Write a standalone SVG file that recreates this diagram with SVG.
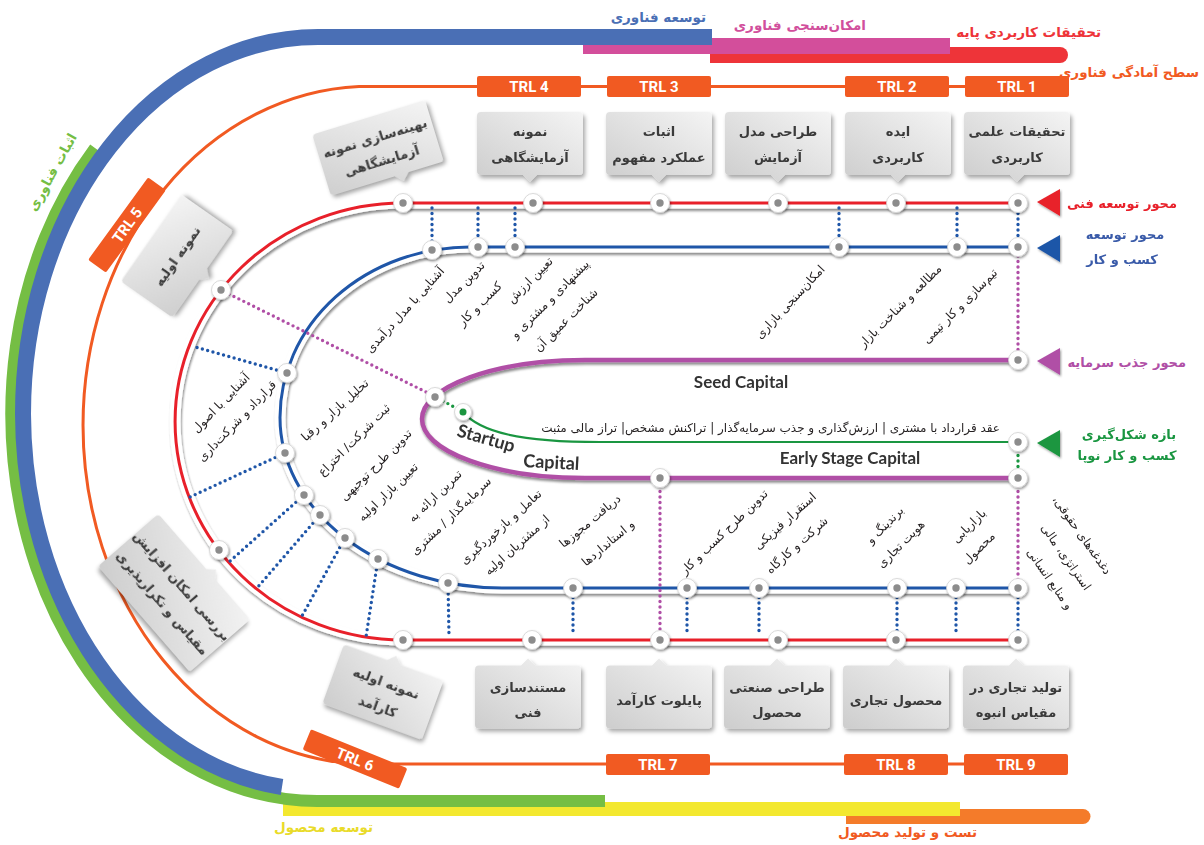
<svg xmlns="http://www.w3.org/2000/svg" width="1204" height="845" viewBox="0 0 1204 845">
<defs>
<style>
.hd{font-family:"DejaVu Sans","Noto Sans",sans-serif;font-size:13.5px;font-weight:bold}
.ax{font-family:"DejaVu Sans","Noto Sans",sans-serif;font-size:13px;font-weight:bold}
.en{font-family:Lato,"Open Sans","Liberation Sans",sans-serif;font-weight:bold;fill:#333}
.lbl{font-family:"DejaVu Sans","Noto Sans",sans-serif;font-size:12px;fill:#231f20;text-anchor:middle}
.bt{font-family:"DejaVu Sans","Noto Sans",sans-serif;font-size:13px;font-weight:bold;fill:#3a3a3a;text-anchor:middle}
.trl{fill:#F15A22}
.trlt{font-family:Roboto,"Open Sans",sans-serif;font-weight:bold;font-size:15px;fill:#fff;text-anchor:middle}
.dot{fill:none;stroke-width:3.4;stroke-linecap:round;stroke-dasharray:0 5.5}
.db{stroke:#1F56A8}
.dp{stroke:#B04FA6}
.dg{stroke:#1A9641}
.box{fill:url(#gb);filter:url(#bsh)}
.tube{fill:none;stroke:#fff;stroke-width:11;filter:url(#tsh)}
</style>
<linearGradient id="gb" x1="0" y1="1" x2="1" y2="0"><stop offset="0" stop-color="#cdcdcd"/><stop offset="1" stop-color="#f4f4f4"/></linearGradient>
<filter id="bsh" x="-20%" y="-20%" width="150%" height="150%"><feDropShadow dx="2" dy="3" stdDeviation="2" flood-color="#000" flood-opacity="0.35"/></filter>
<filter id="tsh" x="-5%" y="-10%" width="110%" height="125%"><feDropShadow dx="1" dy="2.5" stdDeviation="1.3" flood-color="#000" flood-opacity="0.45"/></filter>
<filter id="nsh" x="-10%" y="-10%" width="120%" height="125%"><feDropShadow dx="1" dy="1.5" stdDeviation="1.2" flood-color="#000" flood-opacity="0.4"/></filter>
<path id="boxD" d="M-49,-31.5 H49 Q53,-31.5 53,-27.5 V27.5 Q53,31.5 49,31.5 H7 L0,38.5 L-7,31.5 H-49 Q-53,31.5 -53,27.5 V-27.5 Q-53,-31.5 -49,-31.5 Z"/>
<path id="boxU" d="M-49,-31.5 H-7 L0,-38.5 L7,-31.5 H49 Q53,-31.5 53,-27.5 V27.5 Q53,31.5 49,31.5 H-49 Q-53,31.5 -53,27.5 V-27.5 Q-53,-31.5 -49,-31.5 Z"/>
<path id="boxA" d="M-55,-32 H55 Q59,-32 59,-28 V28 Q59,32 55,32 H22 L15,39 L8,32 H-55 Q-59,32 -59,28 V-28 Q-59,-32 -55,-32 Z"/>
<path id="boxW" d="M-66,-40 H3 L10,-47 L17,-40 H66 Q70,-40 70,-36 V36 Q70,40 66,40 H-66 Q-70,40 -70,36 V-36 Q-70,-40 -66,-40 Z"/>
<g id="nd"><circle r="9.5" fill="#fff" stroke="#d2d2d2" stroke-width="0.8"/><circle r="3.7" fill="#8c8c8c"/></g>
<g id="ndg"><circle r="8.5" fill="#fff" stroke="#d2d2d2" stroke-width="0.8"/><circle r="3.5" fill="#1A9641"/></g>
</defs>
<rect width="1204" height="845" fill="#fff"/>

<g id="bands">
<path d="M846,809 H1083 A7.5,7.5 0 0 1 1083,824 H846 Z" fill="#F47B2A"/>
<rect x="283" y="802" width="677" height="14" fill="#F3E82F"/>
<path d="M95,148 A306,387 0 0 0 318,801 H605" fill="none" stroke="#75BE44" stroke-width="12"/>
<path d="M710,47 H1060 A8,8 0 0 1 1060,63 H710 Z" fill="#EE3439"/>
<rect x="583" y="38" width="367" height="16" fill="#D34E9B"/>
<path d="M712,37 H318 A295,377 0 0 0 23,414 A295,377 0 0 0 282,787" fill="none" stroke="#4A6FB5" stroke-width="16"/>
<text class="hd" x="706" y="22" fill="#4A6FB5" text-anchor="end">توسعه فناوری</text>
<text class="hd" x="866" y="30" fill="#D14F9C" text-anchor="end">امکان&#x200C;سنجی فناوری</text>
<text class="hd" x="1101" y="37" fill="#EE3439" text-anchor="end">تحقیقات کاربردی پایه</text>
<text class="hd" x="1199" y="77" fill="#F15A22" text-anchor="end">سطح آمادگی فناوری</text>
<text class="hd" transform="translate(52,172) rotate(-61)" y="5" fill="#75BE44" text-anchor="middle" font-weight="normal" font-size="14">اثبات فناوری</text>
<text class="hd" x="373" y="832" fill="#E9DB2A" text-anchor="end" font-weight="normal">توسعه محصول</text>
<text class="hd" x="977" y="837" fill="#F15A22" text-anchor="end" font-weight="normal">تست و تولید محصول</text>
</g>

<g id="trl-line">
<path d="M1068,86.5 H359 A287,339 0 0 0 359,764 H1068" fill="none" stroke="#F15A22" stroke-width="3"/>
<g id="trl4"><rect class="trl" x="477" y="76" width="104" height="21" rx="2"/><text class="trlt" x="529" y="92">TRL 4</text></g>
<g id="trl3"><rect class="trl" x="607" y="76" width="104" height="21" rx="2"/><text class="trlt" x="659" y="92">TRL 3</text></g>
<g id="trl2"><rect class="trl" x="845" y="76" width="104" height="21" rx="2"/><text class="trlt" x="897" y="92">TRL 2</text></g>
<g id="trl1"><rect class="trl" x="965" y="76" width="104" height="21" rx="2"/><text class="trlt" x="1017" y="92">TRL 1</text></g>
<g id="trl5" transform="translate(127,225) rotate(-54)"><rect class="trl" x="-51" y="-11" width="102" height="22" rx="2"/><text class="trlt" y="5.5">TRL 5</text></g>
<g id="trl6" transform="translate(355,759) rotate(22)"><rect class="trl" x="-52" y="-11" width="104" height="22" rx="2"/><text class="trlt" y="5.5">TRL 6</text></g>
<g id="trl7"><rect class="trl" x="606" y="754" width="104" height="21" rx="2"/><text class="trlt" x="658" y="770">TRL 7</text></g>
<g id="trl8"><rect class="trl" x="844" y="754" width="104" height="21" rx="2"/><text class="trlt" x="896" y="770">TRL 8</text></g>
<g id="trl9"><rect class="trl" x="964" y="754" width="104" height="21" rx="2"/><text class="trlt" x="1016" y="770">TRL 9</text></g>
</g>

<g id="tracks">
<path class="tube" d="M1018,203 H403 A228,218.5 0 0 0 403,640 H1018"/>
<path d="M1018,203 H403 A228,218.5 0 0 0 403,640 H1018" fill="none" stroke="#E8202A" stroke-width="3"/>
<path class="tube" d="M1018,247 H470 A190,170.5 0 0 0 280,417.5 A222,170.5 0 0 0 502,588 H1018"/>
<path d="M1018,247 H470 A190,170.5 0 0 0 280,417.5 A222,170.5 0 0 0 502,588 H1018" fill="none" stroke="#1F56A8" stroke-width="3"/>
<path d="M1018,360 H585 A163,59 0 0 0 585,478 H1018" fill="none" stroke="#B04FA6" stroke-width="4.5" filter="url(#tsh)"/>
<path d="M463,412 C480,432 520,442 600,442 H1018" fill="none" stroke="#1A9641" stroke-width="2.2"/>
</g>

<g id="connectors">
<path class="dot db" d="M432,208 V242 M478,208 V239 M515,208 V239 M839,208 V239 M957,208 V239 M1018,208 V239 M287,373 L192,346 M285,453 L190,497 M304,495 L229,562 M320,515 L257,588 M345,538 L302,616 M378,559 L366,637 M448,583 L449,636 M573,592 V636 M687,592 V636 M759,592 V636 M897,592 V636 M956,592 V636 M1018,592 V636"/>
<path class="dot dp" d="M229,294 L430,394 M1018,256 V352 M660,486 V632 M1018,486 V580"/>
<path class="dot dg" d="M443,401 L458,409 M1018,450 V471"/>
</g>

<g id="stations" filter="url(#nsh)">
<use href="#nd" x="403" y="203"/><use href="#nd" x="533" y="203"/><use href="#nd" x="660" y="203"/><use href="#nd" x="778" y="203"/><use href="#nd" x="896" y="203"/><use href="#nd" x="1018" y="203"/>
<use href="#nd" x="221" y="290"/><use href="#nd" x="219" y="550"/>
<use href="#nd" x="403" y="640"/><use href="#nd" x="532" y="640"/><use href="#nd" x="660" y="640"/><use href="#nd" x="778" y="640"/><use href="#nd" x="896" y="640"/><use href="#nd" x="1018" y="640"/>
<use href="#nd" x="432" y="250"/><use href="#nd" x="478" y="247"/><use href="#nd" x="515" y="247"/><use href="#nd" x="839" y="247"/><use href="#nd" x="957" y="247"/><use href="#nd" x="1018" y="247"/>
<use href="#nd" x="287" y="373"/><use href="#nd" x="285" y="453"/><use href="#nd" x="304" y="495"/><use href="#nd" x="320" y="515"/><use href="#nd" x="345" y="538"/><use href="#nd" x="378" y="559"/><use href="#nd" x="448" y="583"/>
<use href="#nd" x="573" y="588"/><use href="#nd" x="687" y="588"/><use href="#nd" x="759" y="588"/><use href="#nd" x="897" y="588"/><use href="#nd" x="956" y="588"/><use href="#nd" x="1018" y="588"/>
<use href="#nd" x="435" y="397"/><use href="#nd" x="1018" y="360"/><use href="#nd" x="660" y="478"/><use href="#nd" x="1018" y="478"/>
<use href="#ndg" x="463" y="412"/><use href="#nd" x="1018" y="442"/>
</g>

<g id="box-t1" transform="translate(530,143.5)"><use class="box" href="#boxD"/><text class="bt" y="-8">نمونه</text><text class="bt" y="18">آزمایشگاهی</text></g>
<g id="box-t2" transform="translate(659,143.5)"><use class="box" href="#boxD"/><text class="bt" y="-8">اثبات</text><text class="bt" y="18">عملکرد مفهوم</text></g>
<g id="box-t3" transform="translate(778,143.5)"><use class="box" href="#boxD"/><text class="bt" y="-8">طراحی مدل</text><text class="bt" y="18">آزمایش</text></g>
<g id="box-t4" transform="translate(898,143.5)"><use class="box" href="#boxD"/><text class="bt" y="-8">ایده</text><text class="bt" y="18">کاربردی</text></g>
<g id="box-t5" transform="translate(1017,143.5)"><use class="box" href="#boxD"/><text class="bt" y="-8">تحقیقات علمی</text><text class="bt" y="18">کاربردی</text></g>
<g id="box-b1" transform="translate(528,697)"><use class="box" href="#boxU"/><text class="bt" y="-5">مستندسازی</text><text class="bt" y="20">فنی</text></g>
<g id="box-b2" transform="translate(659,697)"><use class="box" href="#boxU"/><text class="bt" y="8">پایلوت کارآمد</text></g>
<g id="box-b3" transform="translate(777,697)"><use class="box" href="#boxU"/><text class="bt" y="-5">طراحی صنعتی</text><text class="bt" y="20">محصول</text></g>
<g id="box-b4" transform="translate(896,697)"><use class="box" href="#boxU"/><text class="bt" y="8">محصول تجاری</text></g>
<g id="box-b5" transform="translate(1016,697)"><use class="box" href="#boxU"/><text class="bt" y="-5">تولید تجاری در</text><text class="bt" y="20">مقیاس انبوه</text></g>
<g id="box-a" transform="translate(378,148) rotate(-17)"><use class="box" href="#boxA"/><text class="bt" y="-6" font-size="12">بهینه&#x200C;سازی نمونه</text><text class="bt" y="18" font-size="12">آزمایشگاهی</text></g>
<g id="box-p" transform="translate(177,256) rotate(-55)"><use class="box" href="#boxD"/><text class="bt" y="5">نمونه اولیه</text></g>
<g id="box-c" transform="translate(383,692) rotate(20)"><use class="box" href="#boxU"/><text class="bt" y="-5">نمونه اولیه</text><text class="bt" y="20">کارآمد</text></g>
<g id="box-d" transform="translate(174,593) rotate(49)"><use class="box" href="#boxW"/><text class="bt" y="-6" font-size="12.5">بررسی امکان افزایش</text><text class="bt" y="20" font-size="12.5">مقیاس و تکرارپذیری</text></g>

<g id="labels">
<text class="lbl" transform="translate(405,310) rotate(-48)" y="4">آشنایی با مدل درآمدی</text>
<text class="lbl" transform="translate(464,282) rotate(-45)" y="4">تدوین مدل</text>
<text class="lbl" transform="translate(480,304) rotate(-45)" y="4">کسب و کار</text>
<text class="lbl" transform="translate(530,280) rotate(-45)" y="4">تعیین ارزش</text>
<text class="lbl" transform="translate(550,299) rotate(-45)" y="4">پیشنهادی و مشتری و</text>
<text class="lbl" transform="translate(566,320) rotate(-45)" y="4">شناخت عمیق آن</text>
<text class="lbl" transform="translate(790,302) rotate(-47)" y="4">امکان&#x200C;سنجی بازاری</text>
<text class="lbl" transform="translate(900,306) rotate(-45)" y="4">مطالعه و شناخت بازار</text>
<text class="lbl" transform="translate(960,306) rotate(-45)" y="4">تیم&#x200C;سازی  و کار تیمی</text>
<text class="lbl" transform="translate(221,403) rotate(-46)" y="4">آشنایی با اصول</text>
<text class="lbl" transform="translate(237,421) rotate(-46)" y="4">قرارداد و شرکت&#x200C;داری</text>
<text class="lbl" transform="translate(335,410) rotate(-42)" y="4">تحلیل بازار و رقبا</text>
<text class="lbl" transform="translate(354,440) rotate(-45)" y="4">ثبت شرکت/ اختراع</text>
<text class="lbl" transform="translate(376,465) rotate(-45)" y="4">تدوین طرح توجیهی</text>
<text class="lbl" transform="translate(388,492) rotate(-44)" y="4">تعیین بازار اولیه</text>
<text class="lbl" transform="translate(435,496) rotate(-44)" y="4">تمرین ارائه به</text>
<text class="lbl" transform="translate(451,516) rotate(-44)" y="4">سرمایه&#x200C;گذار / مشتری</text>
<text class="lbl" transform="translate(501,527) rotate(-42)" y="4">تعامل و بازخوردگیری</text>
<text class="lbl" transform="translate(517,545) rotate(-42)" y="4">از مشتریان اولیه</text>
<text class="lbl" transform="translate(590,521) rotate(-40)" y="4">دریافت مجوزها</text>
<text class="lbl" transform="translate(608,543) rotate(-40)" y="4">و استانداردها</text>
<text class="lbl" transform="translate(724,532) rotate(-44)" y="4">تدوین طرح کسب و کار</text>
<text class="lbl" transform="translate(785,521) rotate(-42)" y="4">استقرار فیزیکی</text>
<text class="lbl" transform="translate(797,545) rotate(-42)" y="4">شرکت و کارگاه</text>
<text class="lbl" transform="translate(885,525) rotate(-45)" y="4">برندینگ و</text>
<text class="lbl" transform="translate(901,544) rotate(-45)" y="4">هویت تجاری</text>
<text class="lbl" transform="translate(969,526) rotate(-45)" y="4">بازاریابی</text>
<text class="lbl" transform="translate(979,548) rotate(-45)" y="4">محصول</text>
<text class="lbl" transform="translate(1082,535) rotate(55)" y="4">دغدغه&#x200C;های حقوقی،&#x200F;</text>
<text class="lbl" transform="translate(1066,557) rotate(55)" y="4">استراتژی، مالی</text>
<text class="lbl" transform="translate(1050,579) rotate(55)" y="4">و منابع انسانی</text>
<text class="lbl" x="1000" y="432" style="text-anchor:end" font-size="12.5">عقد قرارداد با مشتری | ارزش&#x200C;گذاری و جذب سرمایه&#x200C;گذار | تراکنش مشخص| تراز مالی مثبت</text>
<text class="en" x="741" y="388" font-size="17" text-anchor="middle">Seed Capital</text>
<text class="en" x="850" y="464" font-size="17" text-anchor="middle">Early Stage Capital</text>
<text class="en" transform="translate(456,436) rotate(16)" font-size="18">Startup</text>
<text class="en" transform="translate(523,467) rotate(3)" font-size="18">Capital</text>
</g>

<g id="axes">
<g id="ax-red"><polygon points="1037,202 1060,189 1060,216" fill="#E8202A" filter="url(#nsh)"/><text class="ax" x="1177" y="208" fill="#E8202A" text-anchor="end">محور توسعه فنی</text></g>
<g id="ax-blue"><polygon points="1037,248 1060,235 1060,262" fill="#1F56A8" filter="url(#nsh)"/><text class="ax" x="1125" y="239" fill="#3A5BA9" text-anchor="middle">محور توسعه</text><text class="ax" x="1122" y="264" fill="#3A5BA9" text-anchor="middle">کسب و کار</text></g>
<g id="ax-pink"><polygon points="1037,361 1060,348 1060,375" fill="#B04FA6" filter="url(#nsh)"/><text class="ax" x="1186" y="367" fill="#B04FA6" text-anchor="end">محور جذب سرمایه</text></g>
<g id="ax-green"><polygon points="1037,443 1060,430 1060,457" fill="#1A9641" filter="url(#nsh)"/><text class="ax" x="1129" y="439" fill="#1A9641" text-anchor="middle">بازه شکل&#x200C;گیری</text><text class="ax" x="1127" y="460" fill="#1A9641" text-anchor="middle">کسب و کار نوپا</text></g>
</g>
</svg>
